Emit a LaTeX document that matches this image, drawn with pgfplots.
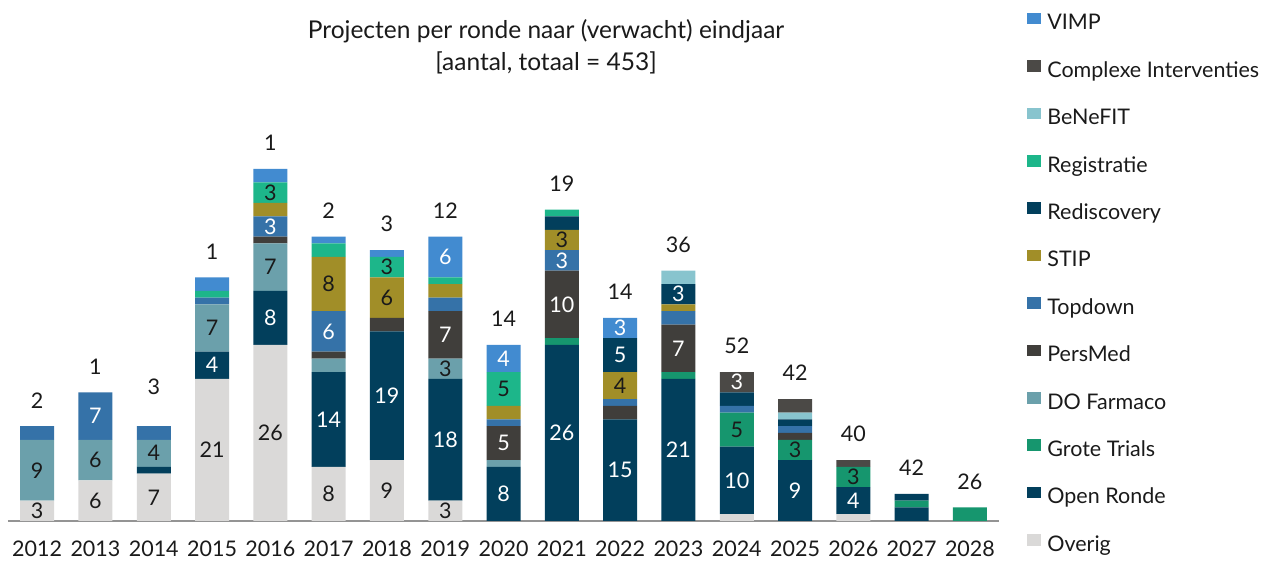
\documentclass[border=0pt]{standalone}
\usepackage{pgfplots}
\usepackage{pgfplotstable}
\pgfplotsset{compat=1.18}
\usepackage{fontspec}
\setmainfont{Lato}
\definecolor{cVIMP}{HTML}{428BD0}
\definecolor{cComp}{HTML}{4B4946}
\definecolor{cBene}{HTML}{88C4CE}
\definecolor{cReg}{HTML}{1DB68A}
\definecolor{cRedis}{HTML}{023F5C}
\definecolor{cSTIP}{HTML}{A18E28}
\definecolor{cTop}{HTML}{3572A8}
\definecolor{cPers}{HTML}{403E3B}
\definecolor{cDO}{HTML}{6BA0AB}
\definecolor{cGrote}{HTML}{16966E}
\definecolor{cOpen}{HTML}{023F5C}
\definecolor{cOverig}{HTML}{DAD9D8}
\definecolor{txt}{HTML}{1A1A1A}
\newcommand\F{\fontsize{21.5}{25}\selectfont}
\newcommand\T{\fontsize{24.5}{29.3}\selectfont}
\pgfplotstableread{
x Overig Open Grote DO Pers Top STIP Redis Reg Bene Comp VIMP
0  3  0 0 9 0  2 0 0 0 0 0 0
1  6  0 0 6 0  7 0 0 0 0 0 0
2  7  1 0 4 0  2 0 0 0 0 0 0
3  21 4 0 7 0  1 0 0 1 0 0 2
4  26 8 0 7 1  3 2 0 3 0 0 2
5  8 14 0 2 1  6 8 0 2 0 0 1
6  9 19 0 0 2  0 6 0 3 0 0 1
7  3 18 0 3 7  2 2 0 1 0 0 6
8  0  8 0 1 5  1 2 0 5 0 0 4
9  0 26 1 0 10 3 3 2 1 0 0 0
10 0 15 0 0 2  1 4 5 0 0 0 3
11 0 21 1 0 7  2 1 3 0 2 0 0
12 1 10 5 0 0  1 0 2 0 0 3 0
13 0  9 3 0 1  1 0 1 0 1 2 0
14 1  4 3 0 0  0 0 0 0 0 1 0
15 0  2 1 0 0  0 0 1 0 0 0 0
16 0  0 2 0 0  0 0 0 0 0 0 0
}\data
\pgfplotsset{
  common/.style={at={(8pt,40pt)}, anchor=south west,
    scale only axis, x=58.3pt, y=6.77pt,
    xmin=-0.5, xmax=16.5, ymin=0, ymax=62.2,
    enlargelimits=false, clip=false},
  seg/.style={fill=#1, draw=none},
  lbl/.style={draw=none, point meta=explicit symbolic, nodes near coords,
    nodes near coords align=center,
    every node near coord/.append style={font=\F, text=#1, inner sep=0pt, anchor=center}},
}
\begin{document}
\begin{tikzpicture}
\useasboundingbox (0,0) rectangle (1261pt,561pt);
\begin{axis}[common,
  ybar stacked, bar width=34pt,
  axis y line=none,
  axis x line*=bottom,
  x axis line style={draw=black!42, line width=1.6pt, -},
  xtick={0,...,16},
  xticklabels={2012,2013,2014,2015,2016,2017,2018,2019,2020,2021,2022,2023,2024,2025,2026,2027,2028},
  xticklabel style={font=\F, text=txt, yshift=-16pt},
  major tick length=0pt,
  reverse legend,
  legend cell align=left,
  legend style={draw=none, fill=none, at={(axis description cs:1.0283,1.2071)}, anchor=north west,
    inner sep=0pt, font=\F, row sep=25.9pt,
    nodes={inner sep=0pt, text height=15.5pt, text depth=4.5pt, text=txt},
    /tikz/every odd column/.append style={column sep=6pt}},
  legend image code/.code={\fill[#1] (0pt,0pt) rectangle (14pt,11.5pt);},
  title={Projecten per ronde naar (verwacht) eindjaar\\[3.3pt]{}[aantal, totaal = 453]},
  title style={at={(axis description cs:0.5429,1.1116)}, anchor=center, align=center, font=\T, text=txt},
]
\addplot[seg=cOverig] table[x=x, y=Overig]{\data};
\addlegendentry{Overig}
\addplot[seg=cOpen] table[x=x, y=Open]{\data};
\addlegendentry{Open Ronde}
\addplot[seg=cGrote] table[x=x, y=Grote]{\data};
\addlegendentry{Grote Trials}
\addplot[seg=cDO] table[x=x, y=DO]{\data};
\addlegendentry{DO Farmaco}
\addplot[seg=cPers] table[x=x, y=Pers]{\data};
\addlegendentry{PersMed}
\addplot[seg=cTop] table[x=x, y=Top]{\data};
\addlegendentry{Topdown}
\addplot[seg=cSTIP] table[x=x, y=STIP]{\data};
\addlegendentry{STIP}
\addplot[seg=cRedis] table[x=x, y=Redis]{\data};
\addlegendentry{Rediscovery}
\addplot[seg=cReg] table[x=x, y=Reg]{\data};
\addlegendentry{Registratie}
\addplot[seg=cBene] table[x=x, y=Bene]{\data};
\addlegendentry{BeNeFIT}
\addplot[seg=cComp] table[x=x, y=Comp]{\data};
\addlegendentry{Complexe Interventies}
\addplot[seg=cVIMP] table[x=x, y=VIMP]{\data};
\addlegendentry{VIMP}
\end{axis}
\begin{axis}[common, hide axis]
% labels inside segments, dark text
\addplot[lbl=txt] coordinates {(0,1.5)[3] (0,7.5)[9] (1,3)[6] (1,9)[6] (2,3.5)[7] (2,10)[4] (3,10.5)[21] (3,28.5)[7] (4,13)[26] (4,37.5)[7] (4,48.5)[3] (5,4)[8] (5,35)[8] (6,4.5)[9] (6,33)[6] (6,37.5)[3] (7,1.5)[3] (7,22.5)[3] (8,19.5)[5] (9,41.5)[3] (10,20)[4] (12,13.5)[5] (13,10.5)[3] (14,6.5)[3]};
% labels inside segments, white text
\addplot[lbl=white] coordinates {(1,15.5)[7] (3,23)[4] (4,30)[8] (4,43.5)[3] (5,15)[14] (5,28)[6] (6,18.5)[19] (7,12)[18] (7,27.5)[7] (7,39)[6] (8,4)[8] (8,11.5)[5] (8,24)[4] (9,13)[26] (9,32)[10] (9,38.5)[3] (10,7.5)[15] (10,24.5)[5] (10,28.5)[3] (11,10.5)[21] (11,25.5)[7] (11,33.5)[3] (12,6)[10] (12,20.5)[3] (13,4.5)[9] (14,3)[4]};
% labels above the bars
\addplot[lbl=txt, every node near coord/.append style={anchor=south, yshift=18pt}] coordinates {(0,14)[2] (1,19)[1] (2,16)[3] (3,36)[1] (4,52)[1] (5,42)[2] (6,40)[3] (7,42)[12] (8,26)[14] (9,46)[19] (10,30)[14] (11,37)[36] (12,22)[52] (13,18)[42] (14,9)[40] (15,4)[42] (16,2)[26]};
\end{axis}
\end{tikzpicture}
\end{document}
